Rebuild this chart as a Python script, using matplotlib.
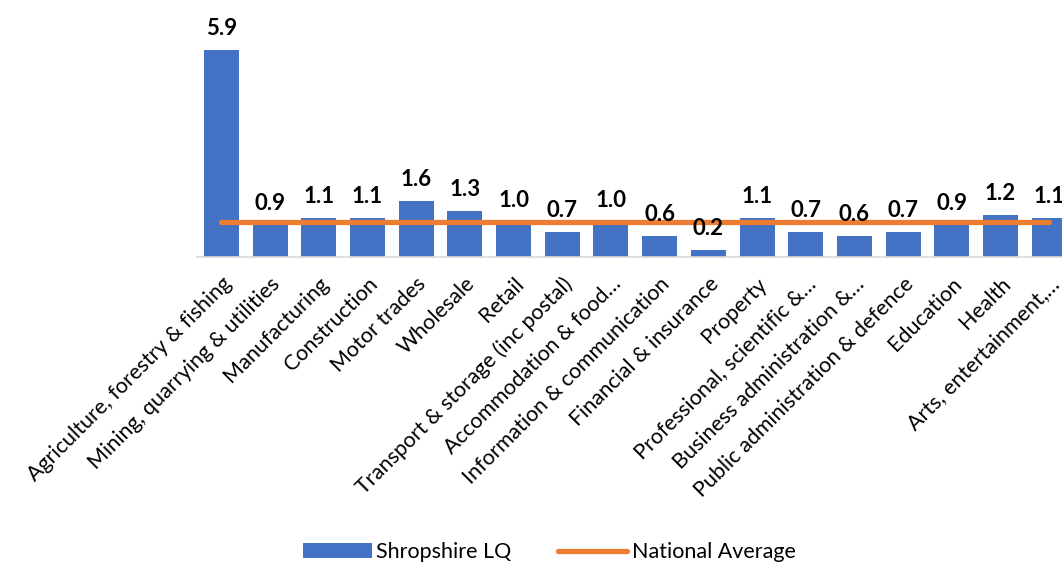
import matplotlib
matplotlib.use("Agg")
import matplotlib.pyplot as plt
import numpy as np

plt.rcParams['font.family'] = ['Lato', 'DejaVu Sans']

sectors = ['Agriculture, forestry & fishing', 'Mining, quarrying & utilities',
           'Manufacturing', 'Construction', 'Motor trades', 'Wholesale', 'Retail',
           'Transport & storage (inc postal)', 'Accommodation & food\u2026',
           'Information & communication', 'Financial & insurance', 'Property',
           'Professional, scientific &\u2026', 'Business administration &\u2026',
           'Public administration & defence', 'Education', 'Health',
           'Arts, entertainment,\u2026']
shropshire_lq = [5.9, 0.9, 1.1, 1.1, 1.6, 1.3, 1.0, 0.7, 1.0, 0.6, 0.2,
                 1.1, 0.7, 0.6, 0.7, 0.9, 1.2, 1.1]
national_avg = [1.0] * len(sectors)

blue = '#4472C4'
orange = '#ED7D31'

fig = plt.figure(figsize=(10.62, 5.62), dpi=100)
# axes runs a little past the right edge, like the cropped original
ax = fig.add_axes([0.1855, 0.5427, 0.8254, 0.437])

x = np.arange(len(sectors))
bar = ax.bar(x, shropshire_lq, width=0.72, color=blue, zorder=2)
line, = ax.plot(x, national_avg, color=orange, lw=3.8, solid_capstyle='round', zorder=3)

for xi, v in zip(x, shropshire_lq):
    ax.annotate(f'{v:.1f}', (xi, v), xytext=(0, 8), textcoords='offset points',
                ha='center', va='bottom', fontsize=16, fontweight='bold', zorder=4)

ax.set_xlim(-0.5, len(sectors) - 0.5)
ax.set_ylim(0, 7)
ax.set_yticks([])
for s in ['top', 'right', 'left']:
    ax.spines[s].set_visible(False)
ax.spines['bottom'].set_color('#d9d9d9')
ax.spines['bottom'].set_linewidth(1.2)

ax.set_xticks(x)
ax.set_xticklabels(sectors, rotation=45, ha='right', rotation_mode='anchor',
                   fontsize=15.5)
ax.tick_params(axis='x', length=0, pad=12)

fig.legend([bar, line], ['Shropshire LQ', 'National Average'], loc='center',
           bbox_to_anchor=(0.517, 0.017), ncol=2, frameon=False, fontsize=15.5,
           handlelength=3.2, columnspacing=2.2, handletextpad=0.2)

fig.savefig('out.png', dpi=100)
